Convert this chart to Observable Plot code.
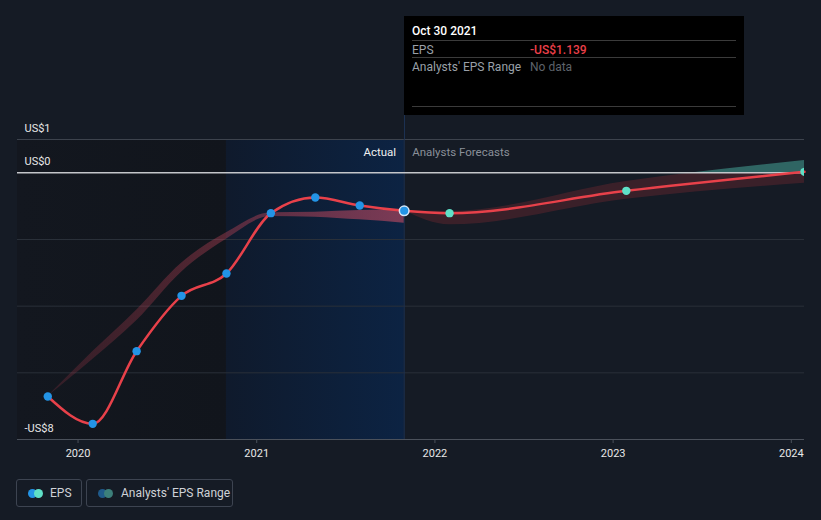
<!DOCTYPE html>
<html>
<head>
<meta charset="utf-8">
<script src="https://cdn.jsdelivr.net/npm/d3@7"></script>
<script src="https://cdn.jsdelivr.net/npm/@observablehq/plot@0.6"></script>
<style>
html,body{margin:0;padding:0;background:#151b25;}
body{width:821px;height:520px;overflow:hidden;position:relative;font-family:Roboto,"Noto Sans",sans-serif;}
#chart{position:absolute;left:0;top:0;}
#vline{position:absolute;width:1px;background:#1c3152;}
#tip{position:absolute;top:16px;width:340px;height:99px;background:#000;}
#tip .t{position:absolute;left:8px;font-size:12px;line-height:14px;white-space:nowrap;}
#tip .sep{position:absolute;left:8px;right:8px;height:1px;background:#3b3b3b;}
#legend .item{position:absolute;top:479px;height:26px;border:1px solid #3d4451;border-radius:3px;color:#cfd2d7;font-size:12px;line-height:26px;box-sizing:content-box;}
#legend .sw{position:absolute;top:9px;width:9px;height:9px;border-radius:50%;}
#legend .lbl{position:absolute;top:0;white-space:nowrap;}
</style>
</head>
<body>
<div id="chart"></div>
<div id="vline"></div>
<div id="tip"></div>
<div id="legend"></div>
<script>
// ---- data ----
const xDomain = ["2019-08-30", "2024-01-28"];
const yDomain = [-8, 1];
const yearTicks = ["2020-01-01", "2021-01-01", "2022-01-01", "2023-01-01", "2024-01-01"];
const gridValues = [-2, -4, -6];
const yLabelValues = [1, 0, -8];
const yLabelTexts = ["US$1", "US$0", "-US$8"];

const actualDates = ["2019-10-31", "2020-01-31", "2020-04-30", "2020-07-31", "2020-10-31", "2021-01-30", "2021-05-01", "2021-07-31", "2021-10-30"];
const actualEps = [-6.71, -7.53, -5.35, -3.69, -3.02, -1.21, -0.74, -0.98, -1.139];
const histLow = [-6.71, -5.60, -4.44, -2.98, -1.99, -1.31, -1.33, -1.41, -1.51];
const histHigh = [-6.71, -5.37, -4.12, -2.71, -1.80, -1.20, -1.18, -1.13, -1.09];

const forecastDates = ["2021-10-30", "2022-01-31", "2023-01-28", "2024-01-28"];
const forecastEps = [-1.139, -1.21, -0.54, 0.03];
const forecastLow = [-1.139, -1.56, -0.79, -0.31];
const forecastHigh = [-1.139, -1.16, -0.26, 0.37];

const regionBounds = ["2019-08-30", "2020-10-31", "2021-10-30"];

const tipDate = "Oct 30 2021";
const tipEps = "-US$1.139";
const tipRange = "No data";
const labelActual = "Actual";
const labelForecast = "Analysts Forecasts";
const legendLabels = ["EPS", "Analysts' EPS Range"];

// ---- build ----
const parse = d3.utcParse("%Y-%m-%d");
const actual = actualDates.map((d, i) => ({date: parse(d), eps: actualEps[i]}));
const hist = actualDates.map((d, i) => ({date: parse(d), low: histLow[i], high: histHigh[i]}));
const forecast = forecastDates.map((d, i) => ({date: parse(d), eps: forecastEps[i], low: forecastLow[i], high: forecastHigh[i]}));
const lineData = actual.concat(forecast.slice(1));
const lastActual = actual[actual.length - 1];
const darkRegion = [{x1: parse(regionBounds[0]), x2: parse(regionBounds[1]), y1: yDomain[0], y2: yDomain[1]}];
const blueRegion = [{x1: parse(regionBounds[1]), x2: parse(regionBounds[2]), y1: yDomain[0], y2: yDomain[1]}];
const yLabels = yLabelValues.map((v, i) => ({v, t: yLabelTexts[i]}));

const RED_BAND = "#c0303c", TEAL_BAND = "#4fc2b0";

const marks = [
  Plot.rect(darkRegion, {x1: "x1", x2: "x2", y1: "y1", y2: "y2", fill: "url(#gDark)"}),
  Plot.rect(blueRegion, {x1: "x1", x2: "x2", y1: "y1", y2: "y2", fill: "url(#gBlue)"}),
  Plot.ruleY(gridValues, {stroke: "#2a3039", strokeWidth: 1}),
  Plot.ruleY([yDomain[1]], {stroke: "#3d434d", strokeWidth: 1}),
  Plot.ruleY([yDomain[0]], {stroke: "#4b515b", strokeWidth: 1}),
  Plot.ruleX([lastActual], {x: "date", y1: yDomain[0], y2: yDomain[1], stroke: "#1c3152", strokeWidth: 1}),
  Plot.areaY(hist, {x: "date", y1: "low", y2: "high", curve: "monotone-x", fill: "url(#gHist)"}),
  Plot.areaY(forecast, {x: "date", y1: "low", y2: "high", curve: "monotone-x", fill: RED_BAND, fillOpacity: 0.22}),
  Plot.areaY(forecast, {x: "date", y1: "low", y2: "high", curve: "monotone-x", fill: TEAL_BAND, fillOpacity: 0.45}),
  Plot.ruleY([0], {stroke: "#c4c6ca", strokeWidth: 1.5}),
  Plot.line(lineData, {x: "date", y: "eps", curve: "monotone-x", stroke: "#e8414a", strokeWidth: 2.5}),
  Plot.dot(actual.slice(0, -1), {x: "date", y: "eps", r: 4.2, fill: "#2394e6"}),
  Plot.dot(forecast.slice(1), {x: "date", y: "eps", r: 4.2, fill: "#5fe0c7", clip: true}),
  Plot.dot([lastActual], {x: "date", y: "eps", r: 4.8, fill: "#2394e6", stroke: "#d2e6f8", strokeWidth: 1.5}),
  Plot.text(yLabels, {y: "v", text: "t", frameAnchor: "left", textAnchor: "start", lineAnchor: "bottom", dx: 7, dy: -8, fill: "#e8e8e8", fontSize: 11}),
  Plot.text([lastActual], {x: "date", text: () => labelActual, frameAnchor: "top", textAnchor: "end", lineAnchor: "bottom", dx: -8, dy: 16, fill: "#f0f0f0", fontSize: 11.5}),
  Plot.text([lastActual], {x: "date", text: () => labelForecast, frameAnchor: "top", textAnchor: "start", lineAnchor: "bottom", dx: 8, dy: 16, fill: "#8a9099", fontSize: 11.5})
];
if (Plot.axisX) {
  marks.push(Plot.axisX(yearTicks.map(parse), {tickFormat: d3.utcFormat("%Y"), tickSize: 4, tickPadding: 6, stroke: "#4b515b", fill: "#e8e8e8", fontSize: 11, label: null}));
}

const plot = Plot.plot({
  width: 821,
  height: 460,
  marginTop: 139,
  marginBottom: 21,
  marginLeft: 17,
  marginRight: 17,
  style: {background: "transparent", fontFamily: "Roboto, sans-serif", fontSize: "11px", color: "#e8e8e8", overflow: "visible"},
  x: {type: "utc", domain: xDomain.map(parse), axis: Plot.axisX ? null : "bottom", ticks: yearTicks.map(parse), tickFormat: d3.utcFormat("%Y"), tickSize: 4, label: null},
  y: {domain: yDomain, axis: null},
  marks
});
document.getElementById("chart").appendChild(plot);

// defs: gradients and clip paths
const svg = d3.select(plot);
const defs = svg.insert("defs", ":first-child");
function grad(id, stops) {
  const g = defs.append("linearGradient").attr("id", id).attr("x1", 0).attr("x2", 1).attr("y1", 0).attr("y2", 0);
  stops.forEach(([o, c, a]) => g.append("stop").attr("offset", o).attr("stop-color", c).attr("stop-opacity", a));
}
grad("gDark", [[0, "#13171f", 1], [1, "#11151c", 1]]);
grad("gBlue", [[0, "#0f1a2c", 1], [1, "#0c2343", 1]]);
grad("gHist", [[0, "#a83848", 0.22], [1, "#c04a62", 0.62]]);

const xs = plot.scale("x"), ys = plot.scale("y");
const y0 = ys.apply(0);
const W = +plot.getAttribute("width"), H = +plot.getAttribute("height");
defs.append("clipPath").attr("id", "clipAbove").append("rect").attr("x", 0).attr("y", 0).attr("width", W).attr("height", y0);
defs.append("clipPath").attr("id", "clipBelow").append("rect").attr("x", 0).attr("y", y0).attr("width", W).attr("height", H - y0);
svg.selectAll(`g[fill="${TEAL_BAND}"]`).attr("clip-path", "url(#clipAbove)");
svg.selectAll(`g[fill="${RED_BAND}"]`).attr("clip-path", "url(#clipBelow)");

// tooltip and its guide line, placed with the x scale
const tipX = Math.round(xs.apply(lastActual.date));
const vline = document.getElementById("vline");
vline.style.left = tipX + "px";
vline.style.top = "16px";
vline.style.height = (ys.apply(yDomain[1]) - 16) + "px";

const tip = document.getElementById("tip");
tip.style.left = tipX + "px";
tip.innerHTML =
  `<div class="t" style="top:8px;color:#fff;font-weight:500">${tipDate}</div>` +
  `<div class="sep" style="top:24px"></div>` +
  `<div class="t" style="top:27px;color:#9aa0a8">EPS</div>` +
  `<div class="t" style="top:27px;left:126px;color:#ec3f48;font-weight:500">${tipEps}</div>` +
  `<div class="sep" style="top:41px"></div>` +
  `<div class="t" style="top:44px;color:#9aa0a8">Analysts' EPS Range</div>` +
  `<div class="t" style="top:44px;left:126px;color:#5e636b">${tipRange}</div>` +
  `<div class="sep" style="top:90px"></div>`;

// legend
const legend = document.getElementById("legend");
legend.innerHTML =
  `<div class="item" style="left:16px;width:64px">` +
    `<span class="sw" style="left:11px;background:#2394e6"></span>` +
    `<span class="sw" style="left:17px;background:#5fe0c7"></span>` +
    `<span class="lbl" style="left:33px">${legendLabels[0]}</span></div>` +
  `<div class="item" style="left:86px;width:145px">` +
    `<span class="sw" style="left:11px;background:#1f5a8a"></span>` +
    `<span class="sw" style="left:17px;background:#3c7f7a"></span>` +
    `<span class="lbl" style="left:34px">${legendLabels[1]}</span></div>`;
</script>
</body>
</html>
